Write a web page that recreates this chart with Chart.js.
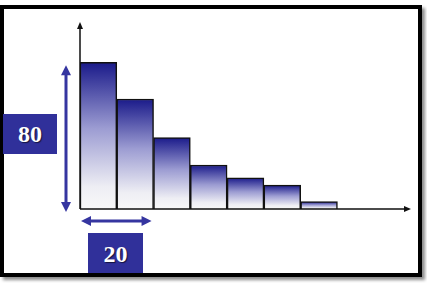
<!DOCTYPE html>
<html lang="en">
<head>
    <meta charset="UTF-8">
    <title>Histogram</title>
    <script src="https://cdn.jsdelivr.net/npm/chart.js"></script>
    <style>
        body {
            margin: 0;
            background: #ffffff;
            width: 427px;
            height: 283px;
            overflow: hidden;
            position: relative;
        }
        .frame {
            position: absolute;
            left: 0;
            top: 5px;
            width: 414px;
            height: 264px;
            border: 4px solid #000;
            box-shadow: 3px 3px 3px rgba(0, 0, 0, 0.45);
            background: #fff;
        }
        canvas {
            position: absolute;
            left: 0;
            top: 0;
        }
        .tag {
            position: absolute;
            background: #30309a;
            color: #fff;
            font-family: "Liberation Serif", "DejaVu Serif", serif;
            font-weight: bold;
            font-size: 24px;
            text-align: center;
            text-shadow: 1px 1px 1px rgba(0, 0, 0, 0.6);
        }
        #tagHeight { left: 3px; top: 114px; width: 54px; height: 40px; line-height: 40px; }
        #tagWidth { left: 88px; top: 233px; width: 55px; height: 40px; line-height: 42px; }
    </style>
</head>
<body>
    <div class="frame"></div>
    <canvas id="histChart" width="427" height="283"></canvas>
    <div class="tag" id="tagHeight">80</div>
    <div class="tag" id="tagWidth">20</div>

    <script>
        // bins (two empty ones at the end so the x axis runs on past the bars)
        const bins = ['0-20', '20-40', '40-60', '60-80', '80-100', '100-120', '120-140', '140-160', '160-180'];
        const counts = [80, 60, 39, 24, 17, 13, 4, null, null];
        const yMax = 102;

        // per-bar gradient: dark blue at the top fading to white at the base
        function barFill(ctx) {
            const chart = ctx.chart;
            const y = chart.scales.y;
            if (!y || ctx.type !== 'data' || ctx.raw == null) return '#8888c8';
            const top = y.getPixelForValue(ctx.raw);
            const base = y.getPixelForValue(0);
            if (!isFinite(top) || !isFinite(base) || base - top < 0.5) return '#8888c8';
            const g = chart.ctx.createLinearGradient(0, top, 0, base);
            g.addColorStop(0, '#1a1a8a');
            g.addColorStop(0.45, '#9c9cd2');
            g.addColorStop(0.85, '#eeeef4');
            g.addColorStop(1, '#f8f8f8');
            return g;
        }

        function arrowHead(c, x, y, dx, dy, len, half) {
            // tip at (x, y), pointing along (dx, dy)
            const px = -dy, py = dx;
            c.beginPath();
            c.moveTo(x, y);
            c.lineTo(x - dx * len + px * half, y - dy * len + py * half);
            c.lineTo(x - dx * len - px * half, y - dy * len - py * half);
            c.closePath();
            c.fill();
        }

        const axesAndArrows = {
            id: 'axesAndArrows',
            afterDraw(chart) {
                const c = chart.ctx;
                const a = chart.chartArea;
                const xs = chart.scales.x;
                const ys = chart.scales.y;
                c.save();

                // axes with arrow tips
                c.strokeStyle = '#111';
                c.fillStyle = '#111';
                c.lineWidth = 1.5;
                c.beginPath();
                c.moveTo(a.left, a.bottom);
                c.lineTo(a.left, a.top + 4);
                c.moveTo(a.left, a.bottom);
                c.lineTo(a.right - 4, a.bottom);
                c.stroke();
                arrowHead(c, a.left, a.top, 0, -1, 7, 3);
                arrowHead(c, a.right, a.bottom, 1, 0, 7, 3);

                // blue dimension arrows
                c.strokeStyle = '#3535a0';
                c.fillStyle = '#3535a0';
                c.lineWidth = 3;
                const vx = a.left - 14;
                const vTop = ys.getPixelForValue(counts[0]) + 3;
                const vBot = ys.getPixelForValue(0) + 3;
                c.beginPath();
                c.moveTo(vx, vTop + 8);
                c.lineTo(vx, vBot - 8);
                c.stroke();
                arrowHead(c, vx, vTop, 0, -1, 10, 5);
                arrowHead(c, vx, vBot, 0, 1, 10, 5);

                const half = (xs.getPixelForValue(1) - xs.getPixelForValue(0)) / 2;
                const hL = xs.getPixelForValue(0) - half + 1;
                const hR = xs.getPixelForValue(1) + half - 2;
                const hy = a.bottom + 12;
                c.beginPath();
                c.moveTo(hL + 8, hy);
                c.lineTo(hR - 8, hy);
                c.stroke();
                arrowHead(c, hL, hy, -1, 0, 10, 5);
                arrowHead(c, hR, hy, 1, 0, 10, 5);

                c.restore();
            }
        };

        const chart = new Chart(document.getElementById('histChart').getContext('2d'), {
            type: 'bar',
            data: {
                labels: bins,
                datasets: [{
                    data: counts,
                    backgroundColor: barFill,
                    borderColor: '#111',
                    borderWidth: 1.5,
                    borderSkipped: 'bottom',
                    barPercentage: 1,
                    categoryPercentage: 1
                }]
            },
            options: {
                responsive: false,
                animation: false,
                layout: { padding: { left: 80, right: 16, top: 22, bottom: 74 } },
                plugins: {
                    legend: { display: false },
                    tooltip: { enabled: false }
                },
                scales: {
                    x: { display: false },
                    y: { display: false, min: 0, max: yMax }
                }
            },
            plugins: [axesAndArrows]
        });
    </script>
</body>
</html>
